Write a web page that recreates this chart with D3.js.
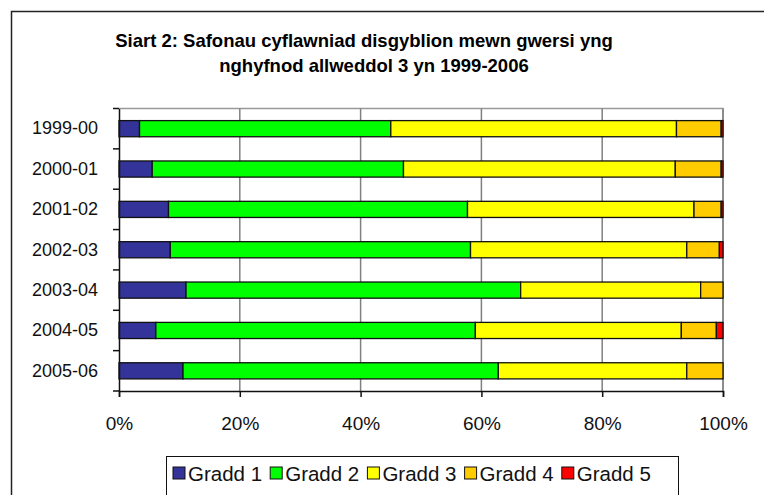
<!DOCTYPE html>
<html>
<head>
<meta charset="utf-8">
<script src="https://cdn.jsdelivr.net/npm/d3@7"></script>
<style>
  body { margin: 0; background: #fff; }
  svg { font-family: Arial, "Liberation Sans", sans-serif; }
</style>
</head>
<body>
<div id="chart"></div>
<script>
// category labels (top to bottom)
var years = ['1999-00', '2000-01', '2001-02', '2002-03', '2003-04', '2004-05', '2005-06'];

// series values, percent of pupils
var gradd1 = [3.4, 5.5, 8.2, 8.5, 11.1, 6.1, 10.6];
var gradd2 = [41.6, 41.6, 49.5, 49.7, 55.4, 52.9, 52.2];
var gradd3 = [47.3, 45.0, 37.5, 35.8, 29.8, 34.1, 31.2];
var gradd4 = [7.4, 7.6, 4.5, 5.4, 3.7, 5.8, 6.0];
var gradd5 = [0.3, 0.3, 0.3, 0.6, 0, 1.1, 0];

var seriesNames = ['Gradd 1', 'Gradd 2', 'Gradd 3', 'Gradd 4', 'Gradd 5'];
var xTicks = [0, 0.2, 0.4, 0.6, 0.8, 1];
var titleLines = ['Siart 2: Safonau cyflawniad disgyblion mewn gwersi yng',
                  'nghyfnod allweddol 3 yn 1999-2006'];

var colors = ['#333399', '#00ff00', '#ffff00', '#ffcc00', '#ff0000'];

var W = 764, H = 495;
var plot = { left: 119, right: 723, top: 108.5, bottom: 391 };

// build rows for the stack
var allSeries = [gradd1, gradd2, gradd3, gradd4, gradd5];
var rows = years.map(function(y, i) {
  var r = { year: y };
  seriesNames.forEach(function(k, j) { r[k] = allSeries[j][i]; });
  return r;
});

var stacked = d3.stack()
  .keys(seriesNames)
  .offset(d3.stackOffsetExpand)(rows);

var svg = d3.select('#chart').append('svg')
  .attr('width', W)
  .attr('height', H);

// outer chart border (runs off the right / bottom edge)
svg.append('rect')
  .attr('x', 11.5).attr('y', 11.5)
  .attr('width', 800).attr('height', 600)
  .attr('fill', 'none')
  .attr('stroke', '#222')
  .attr('stroke-width', 1.5);

// title
svg.append('text')
  .attr('text-anchor', 'middle')
  .style('font-weight', 'bold')
  .style('font-size', '18.5px')
  .selectAll('tspan').data(titleLines)
  .enter().append('tspan')
    .attr('x', function(d, i) { return i === 0 ? 364 : 374; })
    .attr('y', function(d, i) { return 47 + i * 25; })
    .text(function(d) { return d; });

var xScale = d3.scaleLinear()
  .domain([0, 1])
  .range([plot.left, plot.right]);

var yScale = d3.scaleBand()
  .domain(years)
  .range([plot.top, plot.bottom])
  .paddingInner(0.6)
  .paddingOuter(0.3);

// plot area frame (top / right in grey)
svg.append('path')
  .attr('d', 'M' + plot.left + ',' + plot.top + 'H' + plot.right + 'V' + plot.bottom)
  .attr('fill', 'none')
  .attr('stroke', '#999')
  .attr('stroke-width', 1.5);

// vertical gridlines
svg.append('g')
  .selectAll('line').data(xTicks.slice(1))
  .enter().append('line')
    .attr('x1', function(d) { return xScale(d); })
    .attr('x2', function(d) { return xScale(d); })
    .attr('y1', plot.top)
    .attr('y2', plot.bottom)
    .attr('stroke', '#808080')
    .attr('stroke-width', 1.5);

// bars
svg.append('g')
  .selectAll('g').data(stacked)
  .enter().append('g')
    .attr('fill', function(d, i) { return colors[i]; })
  .selectAll('rect').data(function(d) { return d; })
  .enter().append('rect')
    .attr('x', function(d) { return xScale(d[0]); })
    .attr('width', function(d) { return xScale(d[1]) - xScale(d[0]); })
    .attr('y', function(d) { return yScale(d.data.year); })
    .attr('height', yScale.bandwidth())
    .attr('stroke', '#111')
    .attr('stroke-width', 1.3);

// x axis
var xAxis = d3.axisBottom(xScale)
  .tickValues(xTicks)
  .tickFormat(d3.format('.0%'))
  .tickSize(6)
  .tickPadding(20);

var xGuide = svg.append('g')
  .attr('transform', 'translate(0,' + plot.bottom + ')')
  .call(xAxis);
xGuide.select('.domain').attr('stroke', '#111').attr('stroke-width', 1.5);
xGuide.selectAll('.tick line').attr('stroke', '#111').attr('stroke-width', 1.5);
xGuide.selectAll('.tick text')
  .attr('fill', '#111')
  .style('font-size', '19px')
  .style('font-family', 'Arial, "Liberation Sans", sans-serif');

// y axis: ticks sit between categories
var yAxis = d3.axisLeft(yScale).tickSize(0).tickPadding(21);
var yGuide = svg.append('g')
  .attr('transform', 'translate(' + plot.left + ',0)')
  .call(yAxis);
yGuide.select('.domain').attr('stroke', '#111').attr('stroke-width', 1.5);
yGuide.selectAll('.tick text')
  .attr('fill', '#111')
  .style('font-size', '18px')
  .style('font-family', 'Arial, "Liberation Sans", sans-serif');

var step = yScale.step();
var boundaries = d3.range(years.length + 1).map(function(i) { return plot.top + i * step; });
yGuide.selectAll('.sep').data(boundaries)
  .enter().append('line')
    .attr('class', 'sep')
    .attr('x1', -6).attr('x2', 0)
    .attr('y1', function(d) { return d; })
    .attr('y2', function(d) { return d; })
    .attr('stroke', '#111')
    .attr('stroke-width', 1.5);

// legend
var legend = svg.append('g').attr('transform', 'translate(166,456)');
legend.append('rect')
  .attr('x', 0.5).attr('y', 0.5)
  .attr('width', 512).attr('height', 60)
  .attr('fill', '#fff')
  .attr('stroke', '#111')
  .attr('stroke-width', 1);

var item = legend.selectAll('.item').data(seriesNames)
  .enter().append('g')
    .attr('class', 'item')
    .attr('transform', function(d, i) { return 'translate(' + (7 + i * 97.2) + ',0)'; });

item.append('rect')
  .attr('x', 0).attr('y', 11)
  .attr('width', 12).attr('height', 12)
  .attr('fill', function(d, i) { return colors[i]; })
  .attr('stroke', '#111')
  .attr('stroke-width', 1);

item.append('text')
  .attr('x', 15)
  .attr('y', 24.5)
  .style('font-size', '20.5px')
  .attr('fill', '#111')
  .text(function(d) { return d; });
</script>
</body>
</html>
